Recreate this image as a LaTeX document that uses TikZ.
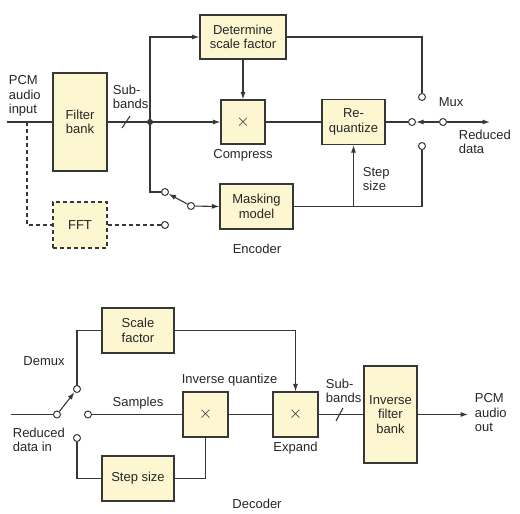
\documentclass[tikz,border=0pt]{standalone}
\usepackage{fontspec}
\setmainfont{Liberation Sans}
\definecolor{boxfill}{RGB}{252, 247, 208}
\definecolor{linegray}{RGB}{55, 55, 55}
\usepackage{tikz}
\usetikzlibrary{arrows.meta, calc, positioning}

\begin{document}
\begin{tikzpicture}[x=1pt, y=-1pt, line width=1.1pt, draw=linegray,
	every node/.style={font=\fontsize{13}{14.5}\selectfont, text=black!85},
	blk/.style={draw=linegray, fill=boxfill, align=center, inner sep=0pt},
	mult/.style={blk, font=\fontsize{19}{19}\selectfont},
	dashline/.style={dash pattern=on 4pt off 3pt},
	contact/.style={circle, draw=linegray, fill=white, inner sep=0pt, minimum size=7pt, line width=1pt},
	arr/.style={-{Latex[length=7.5pt, width=5pt]}},
	lbl/.style={align=left}]
	\useasboundingbox (0,0) rectangle (520,514);
	\pgfmathsetmacro{\topy}{122}
	\pgfmathsetmacro{\boty}{414.5}
	
	% encoder
	\node[blk, minimum width=54, minimum height=98] (filterbank) at (80,\topy) {Filter\\bank};
	\node[blk, dashline, minimum width=54, minimum height=46] (fft) at (80,225) {FFT};
	\node[blk, minimum width=86, minimum height=44] (detscale) at (243,37) {Determine\\scale factor};
	\node[mult, minimum width=44, minimum height=44] (compress) at (243,\topy) {$\times$};
	\node[blk, minimum width=63, minimum height=45] (requant) at (353.5,\topy) {Re-\\quantize};
	\node[blk, minimum width=73, minimum height=45] (masking) at (256.5,206.5) {Masking\\model};
	
	\coordinate (pcmin) at (7,\topy);
	\coordinate (tap) at (27,\topy);
	\coordinate (dataout) at (490,\topy);
	\fill[linegray] (150,\topy) circle (3pt) coordinate (split);
	
	\node[contact] (swa) at (165,192) {};
	\node[contact] (swb) at (191,206) {};
	\node[contact] (fftc) at (165,225) {};
	\node[contact] (muxl) at (412,\topy) {};
	\node[contact] (muxr) at (443,\topy) {};
	\node[contact] (muxu) at (422,97) {};
	\node[contact] (muxd) at (422,146) {};
	
	\draw (pcmin) -- (filterbank.west);
	\draw[dashline] (tap) |- (fft.west);
	\draw[dashline] (fft.east) -- (fftc);
	\draw (filterbank.east) -- (split);
	\draw (122,128) -- (130,116);
	\draw[arr] (split) |- (detscale.west);
	\draw[arr] (split) -- (compress.west);
	\draw[arr] (detscale.south) -- (compress.north);
	\draw (compress.east) -- (requant.west);
	\draw (requant.east) -- (muxl);
	\draw[arr] (muxr) -- (muxl);
	\draw[arr] (muxr) -- (dataout);
	\draw (detscale.east) -| (muxu);
	\draw (masking.east) -| (muxd);
	\draw[arr] (requant.south |- masking.east) -- (requant.south);
	\draw (split) |- (swa);
	\draw[arr] (swb) -- (swa);
	\draw[arr] (swb) -- (masking.west);
	
	\node[lbl, anchor=west] at (5,96) {PCM\\audio\\input};
	\node[lbl, anchor=west] at (109,97) {Sub-\\bands};
	\node at (243,155) {Compress};
	\node[anchor=west] at (435,102) {Mux};
	\node[lbl, anchor=west] at (455,142) {Reduced\\data};
	\node[lbl, anchor=west] at (359,179) {Step\\size};
	\node at (257,249) {Encoder};
	
	% decoder
	\node[blk, minimum width=72, minimum height=45] (scalefac) at (138,330.5) {Scale\\factor};
	\node[blk, minimum width=72, minimum height=45] (stepsz) at (138,478.5) {Step size};
	\node[mult, minimum width=45, minimum height=45] (invq) at (205.5,\boty) {$\times$};
	\node[mult, minimum width=45, minimum height=45] (expand) at (295.5,\boty) {$\times$};
	\node[blk, minimum width=53, minimum height=97] (invfilt) at (390.5,\boty) {Inverse\\filter\\bank};
	
	\coordinate (datain) at (11,\boty);
	\coordinate (pcmout) at (468,\boty);
	
	\node[contact] (dmi) at (57,\boty) {};
	\node[contact] (dmu) at (77,389) {};
	\node[contact] (dms) at (88,\boty) {};
	\node[contact] (dmd) at (77,438) {};
	
	\draw (datain) -- (dmi);
	\draw[arr] (dmi) -- (dmu);
	\draw (dmu) |- (scalefac.west);
	\draw[arr] (scalefac.east) -| (expand.north);
	\draw (dms) -- (invq.west);
	\draw (dmd) |- (stepsz.west);
	\draw (stepsz.east) -| (invq.south);
	\draw (invq.east) -- (expand.west);
	\draw (expand.east) -- (invfilt.west);
	\draw (336,421) -- (343,408);
	\draw[arr] (invfilt.east) -- (pcmout);
	
	\node at (44,361) {Demux};
	\node[lbl, anchor=west] at (9,440) {Reduced\\data in};
	\node at (138,403) {Samples};
	\node[anchor=west] at (178,380) {Inverse quantize};
	\node at (295.5,448) {Expand};
	\node[lbl, anchor=west] at (322,391) {Sub-\\bands};
	\node[lbl, anchor=west] at (471,413) {PCM\\audio\\out};
	\node at (257,504) {Decoder};
\end{tikzpicture}
\end{document}
